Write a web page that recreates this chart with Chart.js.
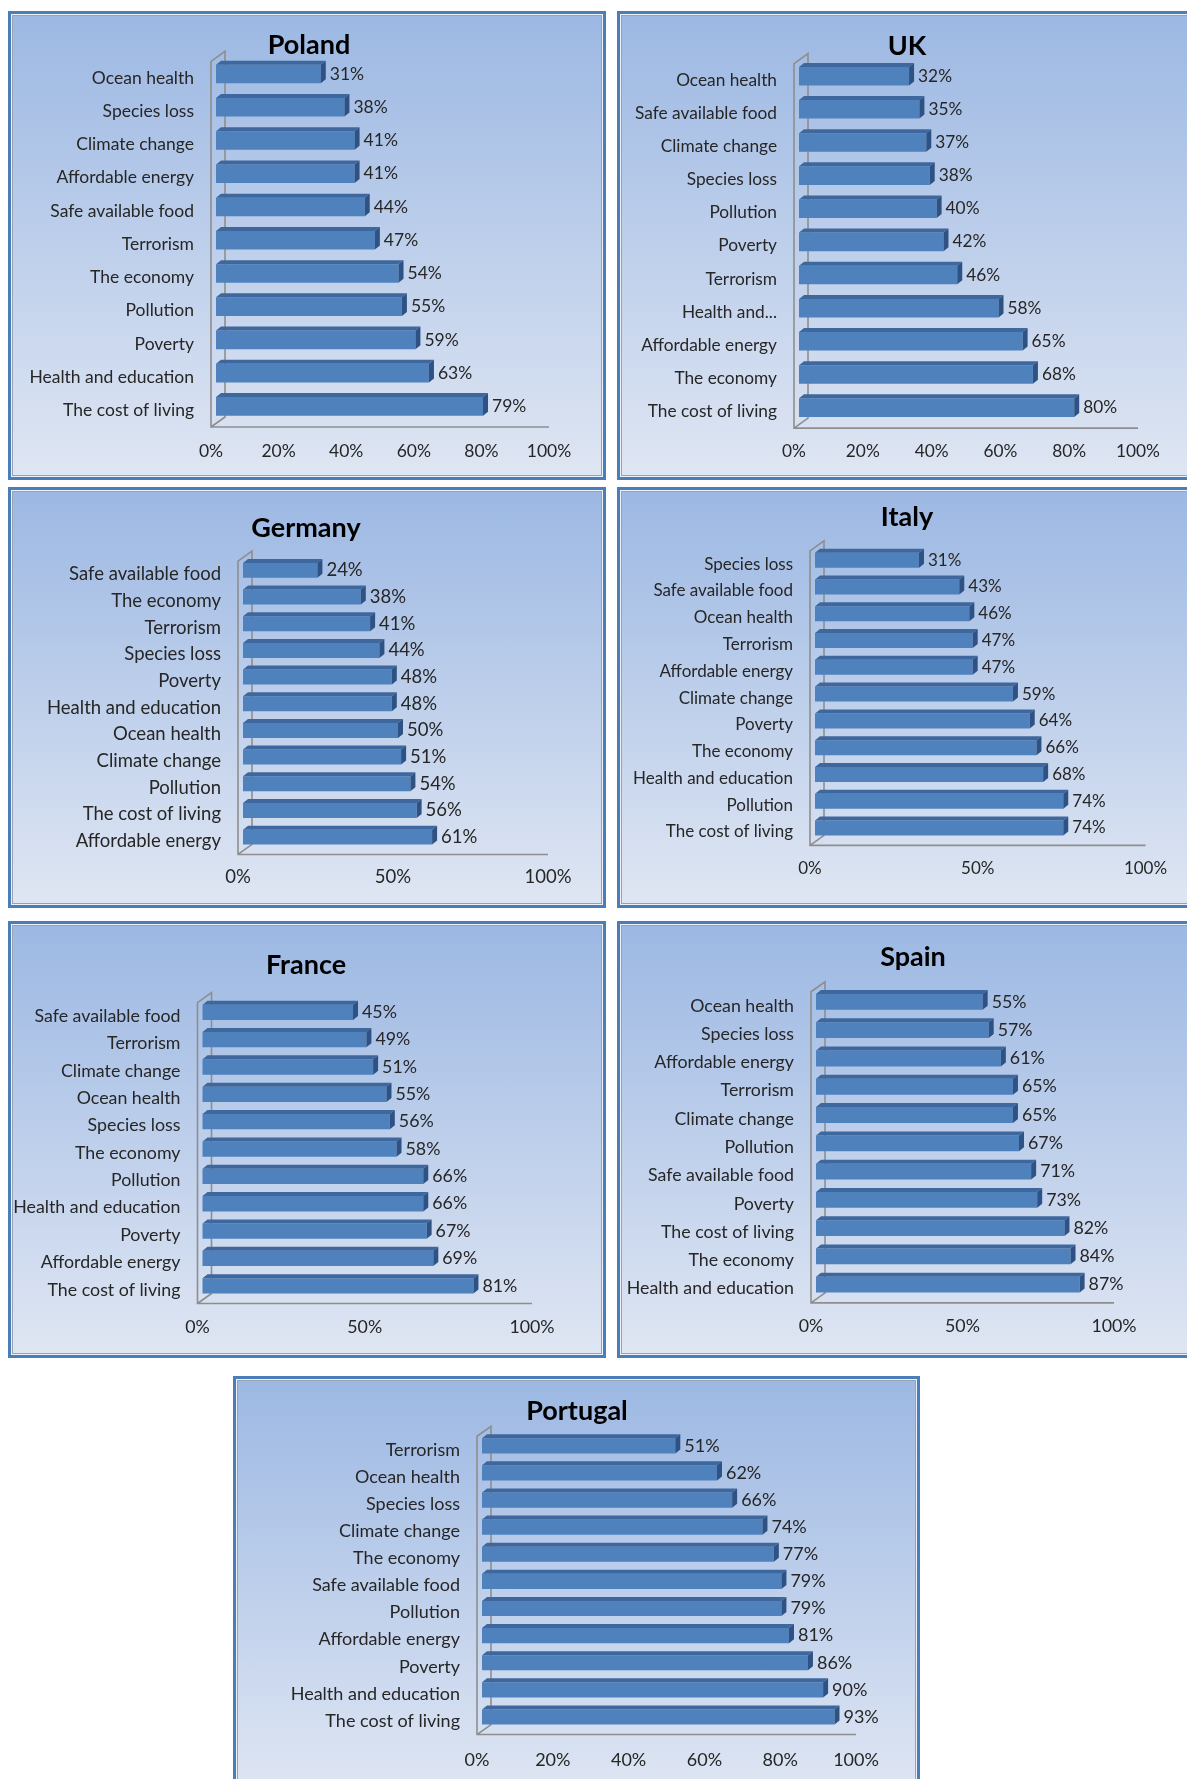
<!DOCTYPE html>
<html>
<head>
<meta charset="utf-8">
<script src="https://cdn.jsdelivr.net/npm/chart.js@4.4.1/dist/chart.umd.min.js"></script>
<style>
  body { margin: 0; width: 1187px; height: 1779px; overflow: hidden; background: #fff; position: relative; font-family: Lato, sans-serif; }
  .panel { position: absolute; }
  .panel .bg { position: absolute; left: 0; top: 0; right: 0; bottom: 0; border: 3px solid #4a7ebb;
    background: linear-gradient(#9cb8e3, #dfe6f3);
    box-shadow: inset 0 0 0 1px #eef2f8, inset 0 0 0 2px #98a2b2; }
  .panel canvas { position: absolute; left: 0; top: 0; }
  .panel h2 { position: absolute; margin: 0; font: bold 27px Lato, sans-serif; line-height: 1; color: #000;
    transform: translate(-50%, -50%); white-space: nowrap; }
</style>
</head>
<body>
<script>
// data (top bar first)
const polandLabels = ['Ocean health', 'Species loss', 'Climate change', 'Affordable energy', 'Safe available food', 'Terrorism', 'The economy', 'Pollution', 'Poverty', 'Health and education', 'The cost of living'];
const polandValues = [31, 38, 41, 41, 44, 47, 54, 55, 59, 63, 79];

const ukLabels = ['Ocean health', 'Safe available food', 'Climate change', 'Species loss', 'Pollution', 'Poverty', 'Terrorism', 'Health and...', 'Affordable energy', 'The economy', 'The cost of living'];
const ukValues = [32, 35, 37, 38, 40, 42, 46, 58, 65, 68, 80];

const germanyLabels = ['Safe available food', 'The economy', 'Terrorism', 'Species loss', 'Poverty', 'Health and education', 'Ocean health', 'Climate change', 'Pollution', 'The cost of living', 'Affordable energy'];
const germanyValues = [24, 38, 41, 44, 48, 48, 50, 51, 54, 56, 61];

const italyLabels = ['Species loss', 'Safe available food', 'Ocean health', 'Terrorism', 'Affordable energy', 'Climate change', 'Poverty', 'The economy', 'Health and education', 'Pollution', 'The cost of living'];
const italyValues = [31, 43, 46, 47, 47, 59, 64, 66, 68, 74, 74];

const franceLabels = ['Safe available food', 'Terrorism', 'Climate change', 'Ocean health', 'Species loss', 'The economy', 'Pollution', 'Health and education', 'Poverty', 'Affordable energy', 'The cost of living'];
const franceValues = [45, 49, 51, 55, 56, 58, 66, 66, 67, 69, 81];

const spainLabels = ['Ocean health', 'Species loss', 'Affordable energy', 'Terrorism', 'Climate change', 'Pollution', 'Safe available food', 'Poverty', 'The cost of living', 'The economy', 'Health and education'];
const spainValues = [55, 57, 61, 65, 65, 67, 71, 73, 82, 84, 87];

const portugalLabels = ['Terrorism', 'Ocean health', 'Species loss', 'Climate change', 'The economy', 'Safe available food', 'Pollution', 'Affordable energy', 'Poverty', 'Health and education', 'The cost of living'];
const portugalValues = [51, 62, 66, 74, 77, 79, 79, 81, 86, 90, 93];

const ticksBy20 = [0, 20, 40, 60, 80, 100];
const ticksBy50 = [0, 50, 100];

// panel placement (px in the page), kept apart from the data
const panels = [
  { title: 'Poland',   labels: polandLabels,   values: polandValues,   ticks: ticksBy20, left: 8,   top: 11,   w: 598, h: 469, x0: 203,   x1: 541,   first: 67,   last: 399.4, tickY: 440, tx: 301, ty: 32, fs: 17.5 },
  { title: 'UK',       labels: ukLabels,       values: ukValues,       ticks: ticksBy20, left: 617, top: 11,   w: 580, h: 469, x0: 177,   x1: 521,   first: 69.2, last: 400.6, tickY: 440, tx: 290, ty: 33, fs: 17.3 },
  { title: 'Germany',  labels: germanyLabels,  values: germanyValues,  ticks: ticksBy50, left: 8,   top: 487,  w: 598, h: 421, x0: 230,   x1: 540,   first: 87.4, last: 354.1, tickY: 390, tx: 298, ty: 39, fs: 18.5 },
  { title: 'Italy',    labels: italyLabels,    values: italyValues,    ticks: ticksBy50, left: 617, top: 487,  w: 580, h: 421, x0: 193,   x1: 528.5, first: 77.2, last: 345,   tickY: 382, tx: 290, ty: 28, fs: 17 },
  { title: 'France',   labels: franceLabels,   values: franceValues,   ticks: ticksBy50, left: 8,   top: 921,  w: 598, h: 437, x0: 189.5, x1: 524,   first: 95.3, last: 368.8, tickY: 406, tx: 298, ty: 42, fs: 17.8 },
  { title: 'Spain',    labels: spainLabels,    values: spainValues,    ticks: ticksBy50, left: 617, top: 921,  w: 580, h: 437, x0: 194,   x1: 497,   first: 84.9, last: 367.7, tickY: 405, tx: 296, ty: 34, fs: 17.8 },
  { title: 'Portugal', labels: portugalLabels, values: portugalValues, ticks: ticksBy20, left: 233, top: 1376, w: 687, h: 420, x0: 244,   x1: 623,   first: 73.8, last: 345,   tickY: 384, tx: 344, ty: 33, fs: 18 }
];

const TEXT = '#262626';
const DX = 5, DY = -4;     // bars sit half way into the 3d depth
const BDX = 5, BDY = 4;    // bar depth
const WDX = 14, WDY = 10;  // wall / floor depth

function depthPlugin(fs) {
  return {
    id: 'depth',
    beforeDatasetsDraw(chart) {
      const ctx = chart.ctx, a = chart.chartArea;
      ctx.save();
      ctx.strokeStyle = '#8e8e8e';
      ctx.lineWidth = 1.6;
      ctx.beginPath();
      ctx.moveTo(a.right, a.bottom);
      ctx.lineTo(a.left, a.bottom);
      ctx.lineTo(a.left, a.top);
      ctx.lineTo(a.left + WDX, a.top - WDY);
      ctx.lineTo(a.left + WDX, a.bottom - WDY);
      ctx.lineTo(a.left, a.bottom);
      ctx.stroke();
      ctx.restore();
      ctx.save();
      ctx.translate(DX, DY);
    },
    afterDatasetsDraw(chart) {
      const ctx = chart.ctx;
      const vals = chart.data.datasets[0].data;
      chart.getDatasetMeta(0).data.forEach((bar, i) => {
        const p = bar.getProps(['x', 'y', 'base', 'height'], true);
        const t = p.y - p.height / 2, b = p.y + p.height / 2;
        ctx.fillStyle = '#3e679e';
        ctx.beginPath();
        ctx.moveTo(p.base, t);
        ctx.lineTo(p.base + BDX, t - BDY);
        ctx.lineTo(p.x + BDX, t - BDY);
        ctx.lineTo(p.x, t);
        ctx.closePath();
        ctx.fill();
        ctx.fillStyle = '#2d5283';
        ctx.beginPath();
        ctx.moveTo(p.x, t);
        ctx.lineTo(p.x + BDX, t - BDY);
        ctx.lineTo(p.x + BDX, b - BDY);
        ctx.lineTo(p.x, b);
        ctx.closePath();
        ctx.fill();
        ctx.fillStyle = TEXT;
        ctx.font = fs + 'px Lato, sans-serif';
        ctx.textAlign = 'left';
        ctx.textBaseline = 'middle';
        ctx.fillText(vals[i] + '%', p.x + BDX + 4, p.y);
      });
      ctx.restore();
    }
  };
}

panels.forEach(p => {
  const div = document.createElement('div');
  div.className = 'panel';
  div.style.left = p.left + 'px';
  div.style.top = p.top + 'px';
  div.style.width = p.w + 'px';
  div.style.height = p.h + 'px';
  div.innerHTML = '<div class="bg"></div>';
  const canvas = document.createElement('canvas');
  canvas.width = p.w;
  canvas.height = p.h;
  div.appendChild(canvas);
  const h2 = document.createElement('h2');
  h2.textContent = p.title;
  h2.style.left = p.tx + 'px';
  h2.style.top = p.ty + 'px';
  div.appendChild(h2);
  document.body.appendChild(div);

  const band = (p.last - p.first) / 10;
  const top = p.first - band / 2;
  const bottom = p.last + band / 2;
  const font = { family: 'Lato, sans-serif', size: p.fs };

  new Chart(canvas, {
    type: 'bar',
    data: {
      labels: p.labels,
      datasets: [{
        data: p.values,
        backgroundColor: '#4f81bd',
        borderWidth: 0,
        barPercentage: 0.56,
        categoryPercentage: 1,
        clip: false
      }]
    },
    options: {
      indexAxis: 'y',
      responsive: false,
      animation: false,
      layout: { padding: { left: 0, right: p.w - p.x1, top: top, bottom: 0 } },
      plugins: { legend: { display: false }, tooltip: { enabled: false } },
      scales: {
        x: {
          min: 0, max: 100,
          afterFit(s) { s.height = p.h - bottom; },
          afterBuildTicks(s) { s.ticks = p.ticks.map(v => ({ value: v })); },
          grid: { display: false, drawTicks: false },
          border: { display: false },
          ticks: { padding: p.tickY - bottom - p.fs * 0.6, font: font, color: TEXT, maxRotation: 0, callback: v => v + '%' }
        },
        y: {
          afterFit(s) { s.width = p.x0; },
          grid: { display: false, drawTicks: false },
          border: { display: false },
          ticks: { padding: 17, font: font, color: TEXT, autoSkip: false }
        }
      }
    },
    plugins: [depthPlugin(p.fs)]
  });
});
</script>
</body>
</html>
